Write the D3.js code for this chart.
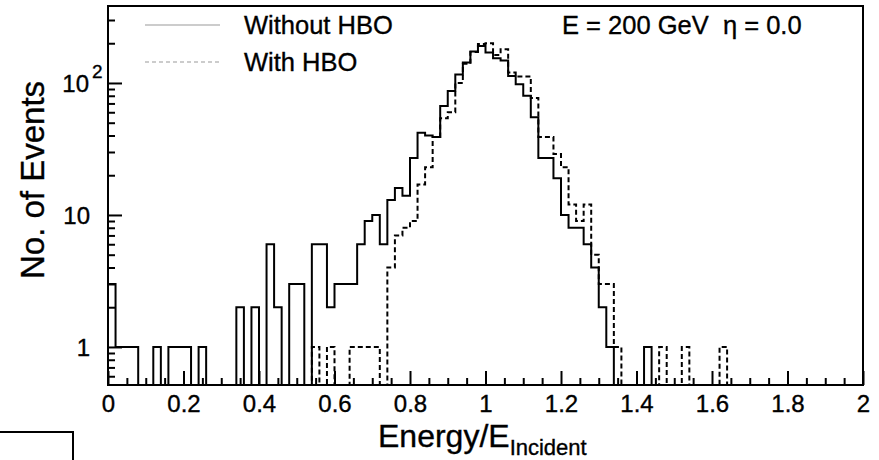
<!DOCTYPE html>
<html>
<head>
<meta charset="utf-8">
<script src="https://cdn.jsdelivr.net/npm/d3@7"></script>
<style>
  body { margin: 0; background: #fff; }
  svg { display: block; font-family: "Liberation Sans", Arial, Helvetica, sans-serif; }
  svg text { stroke: #000; stroke-width: 0.35px; }
</style>
</head>
<body>
<svg id="chart" width="879" height="460"></svg>
<script>
// histogram contents, 100 bins of 0.02 from 0 to 2
const binWidth = 0.02;

const withoutHBO = [
  3, 1, 1, 1, 0, 0, 1, 0, 1, 1,
  1, 0, 1, 0, 0, 0, 0, 2, 0, 2,
  0, 6, 2, 0, 3, 3, 0, 6, 6, 2,
  3, 3, 3, 6, 9, 10, 6, 13, 16, 14,
  27, 42, 40, 39, 67, 87, 116, 143, 173, 191,
  170, 154, 148, 113, 98, 80, 55, 27, 27, 19,
  10, 8, 8, 6, 4, 2, 1, 0, 0, 0,
  0, 1, 0, 0, 0, 0, 0, 0, 0, 0,
  0, 0, 0, 0, 0, 0, 0, 0, 0, 0,
  0, 0, 0, 0, 0, 0, 0, 0, 0, 0
];

const withHBO = [
  0, 0, 0, 0, 0, 0, 0, 0, 0, 0,
  0, 0, 0, 0, 0, 0, 0, 0, 0, 0,
  0, 0, 0, 0, 0, 0, 0, 1, 0, 1,
  0, 0, 1, 1, 1, 1, 0, 4, 7, 8,
  9, 17, 23, 39, 54, 60, 100, 140, 172, 197,
  200, 163, 180, 120, 112, 112, 77, 39, 39, 29,
  23, 12, 9, 12, 5, 3, 3, 1, 0, 0,
  0, 0, 0, 1, 0, 0, 1, 0, 0, 0,
  0, 1, 0, 0, 0, 0, 0, 0, 0, 0,
  0, 0, 0, 0, 0, 0, 0, 0, 0, 0
];

const xTicks = [0, 0.2, 0.4, 0.6, 0.8, 1, 1.2, 1.4, 1.6, 1.8, 2];
const xTickLabels = ['0', '0.2', '0.4', '0.6', '0.8', '1', '1.2', '1.4', '1.6', '1.8', '2'];
const yTicks = [1, 10, 100];
const yMinorTicks = [0.6, 0.7, 0.8, 0.9, 2, 3, 4, 5, 6, 7, 8, 9, 20, 30, 40, 50, 60, 70, 80, 90, 200, 300];
const legendLabels = ['Without HBO', 'With HBO'];

const frame = { left: 108, right: 863, top: 6, bottom: 385 };
const yDomain = [0.515, 383];

const svg = d3.select('#chart');

const x = d3.scaleLinear().domain([0, 2]).range([frame.left, frame.right]);
const y = d3.scaleLog().domain(yDomain).range([frame.bottom, frame.top]);

svg.append('defs').append('clipPath').attr('id', 'frameClip')
  .append('rect')
  .attr('x', frame.left).attr('y', frame.top)
  .attr('width', frame.right - frame.left).attr('height', frame.bottom - frame.top);

// minor ticks, 0.05 apart
const xMinor = d3.range(0, 2.0001, 0.05).filter((v) => Math.abs(v / 0.2 - Math.round(v / 0.2)) > 1e-6);

svg.append('g')
  .attr('transform', `translate(0,${frame.bottom})`)
  .call(d3.axisBottom(x).tickValues(xMinor).tickSize(-7).tickFormat(''))
  .call((g) => g.select('.domain').remove())
  .call((g) => g.selectAll('line').attr('stroke', '#000').attr('stroke-width', 2));

svg.append('g')
  .attr('transform', `translate(0,${frame.bottom})`)
  .call(d3.axisBottom(x).tickValues(xTicks).tickSize(-14).tickPadding(10)
    .tickFormat((d, i) => xTickLabels[i]))
  .call((g) => g.select('.domain').remove())
  .call((g) => g.selectAll('line').attr('stroke', '#000').attr('stroke-width', 2))
  .call((g) => g.selectAll('text').attr('fill', '#000').attr('font-size', 24)
    .attr('font-family', '"Liberation Sans", Arial, sans-serif').attr('dy', '0.71em'));

svg.append('g')
  .attr('transform', `translate(${frame.left},0)`)
  .call(d3.axisLeft(y).tickValues(yMinorTicks).tickSize(-7).tickFormat(''))
  .call((g) => g.select('.domain').remove())
  .call((g) => g.selectAll('line').attr('stroke', '#000').attr('stroke-width', 2));

svg.append('g')
  .attr('transform', `translate(${frame.left},0)`)
  .call(d3.axisLeft(y).tickValues(yTicks).tickSize(-14).tickFormat(''))
  .call((g) => g.select('.domain').remove())
  .call((g) => g.selectAll('line').attr('stroke', '#000').attr('stroke-width', 2));

// y tick labels: 1, 10, 10^2
const yLabels = svg.append('g').attr('font-size', 24).attr('fill', '#000');
yLabels.append('text').attr('x', 90).attr('y', y(1)).attr('dy', '0.36em')
  .attr('text-anchor', 'end').text('1');
yLabels.append('text').attr('x', 90).attr('y', y(10)).attr('dy', '0.36em')
  .attr('text-anchor', 'end').text('10');
yLabels.append('text').attr('x', 89).attr('y', y(100)).attr('dy', '0.36em')
  .attr('text-anchor', 'end').text('10');
yLabels.append('text').attr('x', 92).attr('y', y(100) - 5).attr('font-size', 19).text('2');

// histograms as step outlines, empty bins drop to the frame bottom
const stepLine = d3.line()
  .x((d) => x(d[0]))
  .y((d) => y(Math.max(d[1], yDomain[0])))
  .curve(d3.curveStepAfter);

function histPoints(counts) {
  const pts = [[0, 0]];
  counts.forEach((c, i) => pts.push([i * binWidth, c]));
  pts.push([counts.length * binWidth, 0]);
  return pts;
}

const plot = svg.append('g').attr('clip-path', 'url(#frameClip)');

plot.append('path')
  .datum(histPoints(withoutHBO))
  .attr('d', stepLine)
  .attr('fill', 'none')
  .attr('stroke', '#000')
  .attr('stroke-width', 2);

plot.append('path')
  .datum(histPoints(withHBO))
  .attr('d', stepLine)
  .attr('fill', 'none')
  .attr('stroke', '#000')
  .attr('stroke-width', 2)
  .attr('stroke-dasharray', '5,3');

// frame
svg.append('rect')
  .attr('x', frame.left).attr('y', frame.top)
  .attr('width', frame.right - frame.left).attr('height', frame.bottom - frame.top)
  .attr('fill', 'none').attr('stroke', '#000').attr('stroke-width', 2);

// legend
const legend = svg.append('g');
legendLabels.forEach((label, i) => {
  const ly = 25 + i * 37;
  legend.append('line')
    .attr('x1', 145).attr('x2', 220).attr('y1', ly).attr('y2', ly)
    .attr('stroke', '#999').attr('stroke-width', 1)
    .attr('stroke-dasharray', i === 1 ? '4,3' : null);
  legend.append('text')
    .attr('x', 244).attr('y', ly + 9)
    .attr('font-size', 25.5).attr('fill', '#000')
    .text(label);
});

svg.append('text')
  .attr('x', 562).attr('y', 34)
  .attr('font-size', 25.5).attr('fill', '#000')
  .style('white-space', 'pre')
  .text('E = 200 GeV  \u03b7 = 0.0');

// axis titles
const xTitle = svg.append('text')
  .attr('x', 378).attr('y', 447)
  .attr('font-size', 32).attr('fill', '#000');
xTitle.append('tspan').text('Energy/E');
xTitle.append('tspan').attr('dy', 7.5).attr('font-size', 22).text('Incident');

svg.append('text')
  .attr('transform', 'translate(44,180) rotate(-90)')
  .attr('text-anchor', 'middle')
  .attr('font-size', 33).attr('fill', '#000')
  .text('No. of Events');

// stray box corner at the lower left of the scan
svg.append('path')
  .attr('d', 'M0,432H73V460')
  .attr('fill', 'none').attr('stroke', '#000').attr('stroke-width', 2);
</script>
</body>
</html>
